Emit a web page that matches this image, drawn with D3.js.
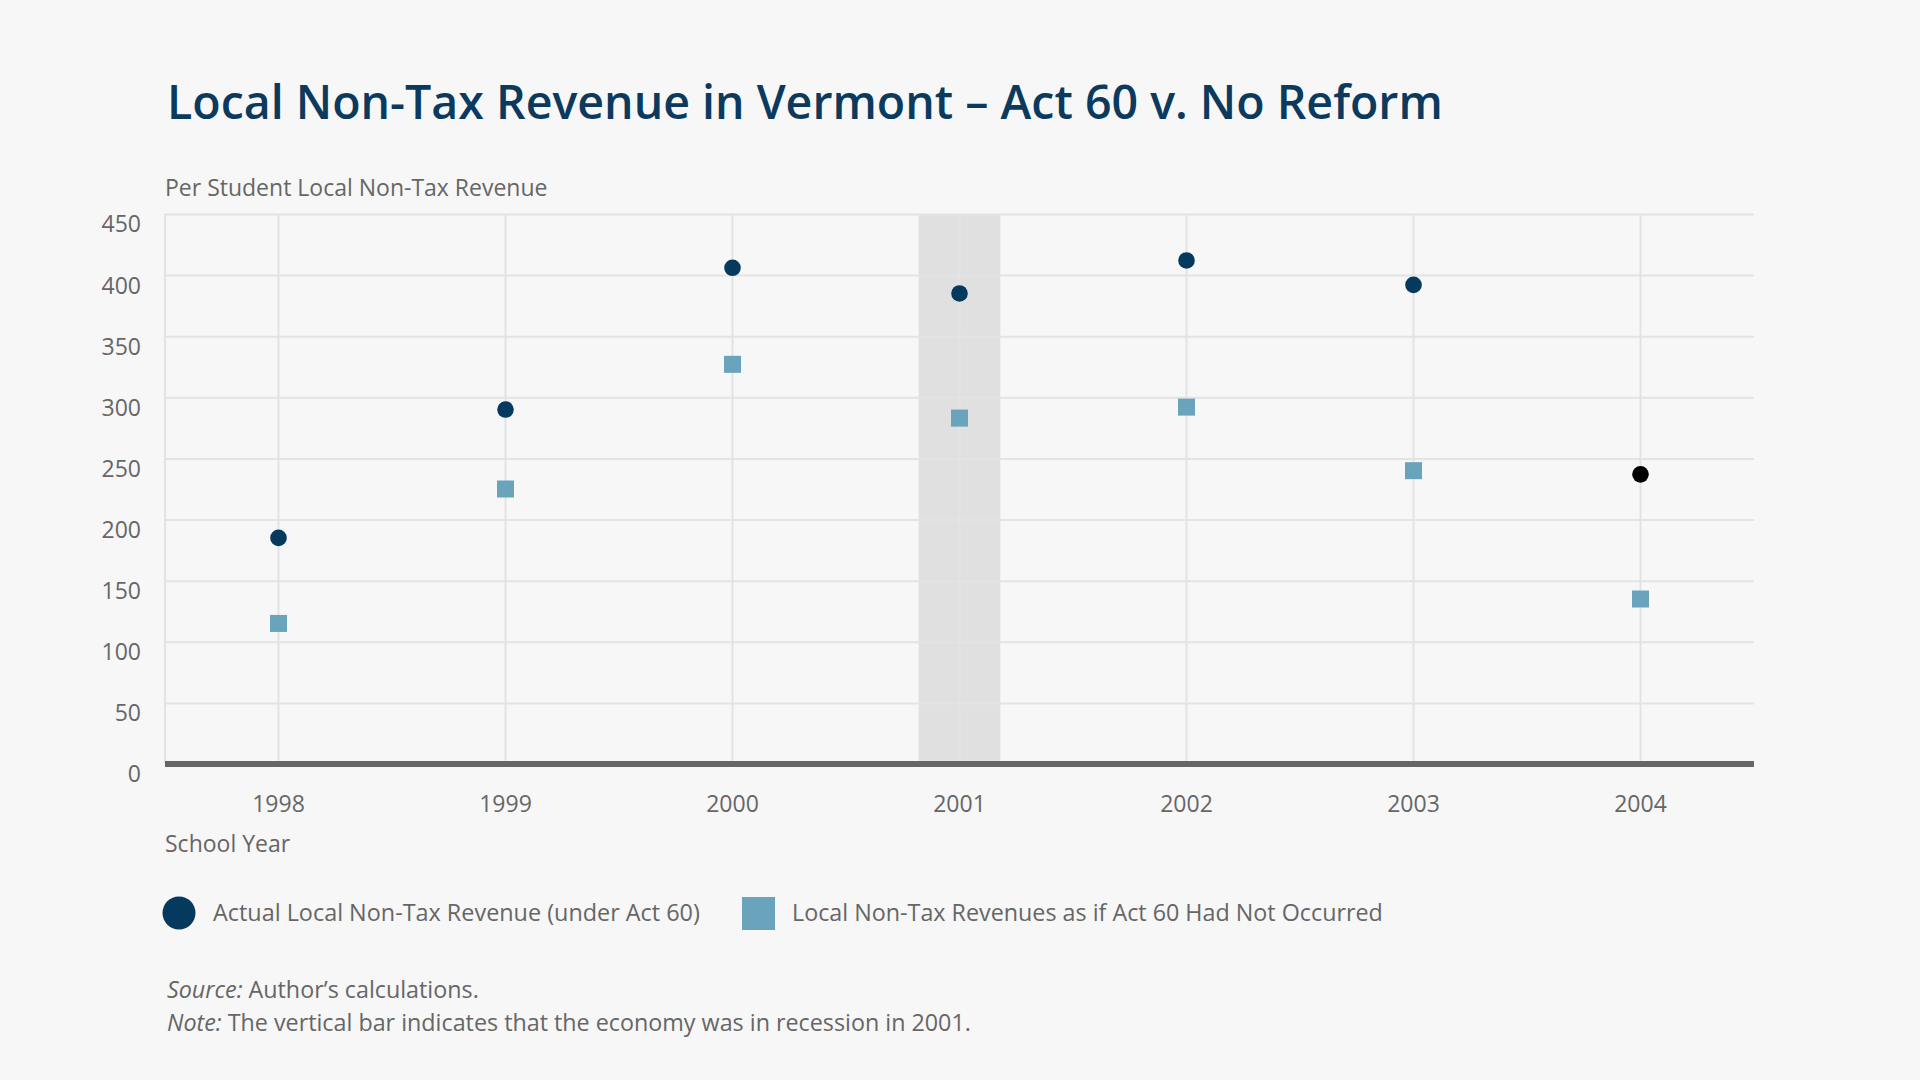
<!DOCTYPE html>
<html>
<head>
<meta charset="utf-8">
<script src="https://cdn.jsdelivr.net/npm/d3@7"></script>
<style>
  html, body { margin: 0; padding: 0; background: #f7f7f7; }
  svg { display: block; font-family: 'Open Sans', sans-serif; }
</style>
</head>
<body>
<svg width="1920" height="1080"></svg>
<script>
// ////////////////////////////////////////////////////////////// chart.js //

const years = ['1998', '1999', '2000', '2001', '2002', '2003', '2004'];
const actualRevenue = [185, 290, 406, 385, 412, 392, 237];
const noReformRevenue = [115, 225, 327, 283, 292, 240, 135];
const yTicks = [0, 50, 100, 150, 200, 250, 300, 350, 400, 450];
const recessionYears = ['2001'];
const legendLabels = [
  'Actual Local Non-Tax Revenue (under Act 60)',
  'Local Non-Tax Revenues as if Act 60 Had Not Occurred',
];

const navy = '#053a5e';
const teal = '#69a3bc';
const grey = '#666666';

// 0. setup groups
// ----------------------------------
const svg = d3.select('svg');
const margin = {left: 165, right: 1754, top: 214, bottom: 764};

const x = d3.scaleBand()
    .domain(years)
    .range([margin.left, margin.right]);

const y = d3.scaleLinear()
    .domain([0, 450])
    .range([margin.bottom, margin.top]);

const plot = svg.append('g').classed('plot', true);

// 1. titles
// ----------------------------------
svg.append('text')
    .attr('x', 167)
    .attr('y', 119)
    .style('font-size', '46.5px')
    .style('font-weight', 600)
    .style('fill', '#0b3a5e')
    .text('Local Non-Tax Revenue in Vermont – Act 60 v. No Reform');

svg.append('text')
    .attr('x', 165)
    .attr('y', 196)
    .style('font-size', '23px')
    .style('fill', grey)
    .text('Per Student Local Non-Tax Revenue');

// 2. grid + recession band
// ----------------------------------
plot.selectAll('.recession')
    .data(recessionYears)
    .enter()
    .append('rect')
    .classed('recession', true)
    .attr('x', (d) => x(d) + x.bandwidth() * 0.32)
    .attr('width', x.bandwidth() * 0.36)
    .attr('y', y(450))
    .attr('height', y(0) - y(450))
    .style('fill', '#e0e0e0');

const yAxis = d3.axisLeft(y)
    .tickValues(yTicks)
    .tickSize(-(margin.right - margin.left))
    .tickPadding(24);

plot.append('g')
    .attr('transform', `translate(${margin.left},0)`)
    .call(yAxis)
    .call((g) => g.select('.domain').remove())
    .call((g) => g.selectAll('.tick line')
        .style('stroke', '#e3e3e3')
        .style('stroke-width', 2))
    .call((g) => g.selectAll('.tick text')
        .attr('dy', '0.78em')
        .style('font-size', '23px')
        .style('font-family', 'Open Sans, sans-serif')
        .style('fill', grey));

const xAxis = d3.axisBottom(x)
    .tickSize(-(margin.bottom - margin.top))
    .tickPadding(32);

plot.append('g')
    .attr('transform', `translate(0,${margin.bottom})`)
    .call(xAxis)
    .call((g) => g.select('.domain').remove())
    .call((g) => g.selectAll('.tick line')
        .style('stroke', '#e3e3e3')
        .style('stroke-width', 2))
    .call((g) => g.selectAll('.tick text')
        .style('font-size', '23px')
        .style('font-family', 'Open Sans, sans-serif')
        .style('fill', grey));

// left edge of the plot
plot.append('line')
    .attr('x1', margin.left)
    .attr('x2', margin.left)
    .attr('y1', y(450))
    .attr('y2', y(0))
    .style('stroke', '#e3e3e3')
    .style('stroke-width', 2);

// zero line
plot.append('line')
    .attr('x1', margin.left)
    .attr('x2', margin.right)
    .attr('y1', y(0))
    .attr('y2', y(0))
    .style('stroke', grey)
    .style('stroke-width', 6);

svg.append('text')
    .attr('x', 165)
    .attr('y', 852)
    .style('font-size', '23px')
    .style('fill', grey)
    .text('School Year');

// 3. markers
// ----------------------------------
const sq = 17;
const cx = (year) => x(year) + x.bandwidth() / 2;

plot.selectAll('.no-reform')
    .data(years.map((d, i) => ({year: d, value: noReformRevenue[i]})))
    .enter()
    .append('rect')
    .classed('no-reform', true)
    .attr('x', (d) => cx(d.year) - sq / 2)
    .attr('y', (d) => y(d.value) - sq / 2)
    .attr('width', sq)
    .attr('height', sq)
    .style('fill', teal);

plot.selectAll('.actual')
    .data(years.map((d, i) => ({year: d, value: actualRevenue[i]})))
    .enter()
    .append('circle')
    .classed('actual', true)
    .attr('cx', (d) => cx(d.year))
    .attr('cy', (d) => y(d.value))
    .attr('r', 8.3)
    // last point is shown highlighted in the original
    .style('fill', (d) => d.year === '2004' ? '#000' : navy);

// 4. legend
// ----------------------------------
const legend = svg.append('g').classed('legend', true);

legend.append('circle')
    .attr('cx', 179)
    .attr('cy', 913)
    .attr('r', 16.5)
    .style('fill', navy);

legend.append('text')
    .attr('x', 213)
    .attr('y', 921)
    .style('font-size', '23.4px')
    .style('fill', grey)
    .text(legendLabels[0]);

legend.append('rect')
    .attr('x', 742)
    .attr('y', 897)
    .attr('width', 33)
    .attr('height', 33)
    .style('fill', teal);

legend.append('text')
    .attr('x', 792)
    .attr('y', 921)
    .style('font-size', '23.3px')
    .style('fill', grey)
    .text(legendLabels[1]);

// 5. notes
// ----------------------------------
const notes = svg.append('g')
    .style('font-size', '23.3px')
    .style('fill', grey);

const source = notes.append('text').attr('x', 167).attr('y', 998);
source.append('tspan').style('font-style', 'italic').text('Source:');
source.append('tspan').text(' Author’s calculations.');

const note = notes.append('text').attr('x', 167).attr('y', 1031);
note.append('tspan').style('font-style', 'italic').text('Note:');
note.append('tspan')
    .text(' The vertical bar indicates that the economy was in recession in 2001.');
</script>
</body>
</html>
